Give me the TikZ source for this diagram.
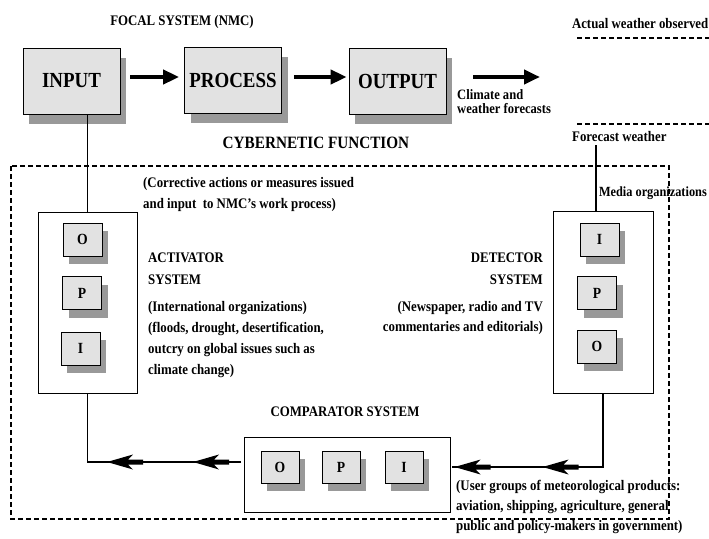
\documentclass[tikz,border=0pt]{standalone}
\usepackage{fontspec}
\setmainfont[FakeStretch=0.88]{Liberation Serif}
\usetikzlibrary{arrows.meta, positioning, calc, shadows, decorations.markings}

\definecolor{boxgray}{RGB}{226,226,226}
\definecolor{shadowgray}{RGB}{153,153,153}

\newcommand{\feedtip}{\fill (0,0) -- (-26,-7.5) -- (-21,-2.5) -- (-36,-2.5) -- (-36,2.5) -- (-21,2.5) -- (-26,7.5) -- cycle;}

\begin{document}
\begin{tikzpicture}[x=1pt, y=-1pt, font=\bfseries,
  bigbox/.style={draw, line width=0.8pt, fill=boxgray, minimum width=97pt, minimum height=66pt,
    font=\fontsize{21.5}{23}\selectfont\bfseries,
    drop shadow={shadow xshift=6pt, shadow yshift=-10pt, fill=shadowgray, opacity=1}},
  smallbox/.style={draw, line width=0.8pt, fill=boxgray, minimum width=39pt, minimum height=33pt,
    font=\fontsize{15.5}{17}\selectfont\bfseries,
    drop shadow={shadow xshift=6pt, shadow yshift=-8pt, fill=shadowgray, opacity=1}},
  sysbox/.style={draw, line width=0.8pt},
  head/.style={font=\fontsize{14.6}{22}\selectfont\bfseries, inner sep=0pt},
  body/.style={font=\fontsize{14.6}{21}\selectfont\bfseries, inner sep=0pt},
  bigarrow/.style={line width=4.5pt, -{Triangle[length=16pt, width=14pt]}},
  feedline/.style={line width=1.3pt},
  feedmark/.style={postaction={decorate, decoration={markings, mark=at position #1 with {\feedtip}}}},
  boundary/.style={line width=1.3pt, dash pattern=on 5pt off 3pt}]

\useasboundingbox (0,0) rectangle (709,538);

\node[head] (focal) at (182,22) {FOCAL SYSTEM (NMC)};
\node[bigbox] (input) at (71.5,81) {INPUT};
\node[bigbox] (process) at (233,80) {PROCESS};
\node[bigbox] (output) at (397.5,81) {OUTPUT};
\coordinate (fcend) at (540,77);
\draw[bigarrow, shorten <=10pt, shorten >=5pt] ([yshift=4pt]input.east) -- ([yshift=4pt]input.east -| process.west);
\draw[bigarrow, shorten <=12pt, shorten >=2pt] ([yshift=3pt]process.east) -- ([yshift=3pt]process.east -| output.west);
\draw[bigarrow, shorten <=27pt] ([yshift=4pt]output.east) -- (fcend);
\node[body, font=\fontsize{14.3}{13.5}\selectfont\bfseries, align=left, anchor=west] (climate) at (457,101.5) {Climate and\\weather forecasts};

\node[head, anchor=east] (actual) at (708.5,24) {Actual weather observed};
\draw[boundary] (577,38) -- (709,38);
\draw[boundary] (577,124) -- (709,124);
\node[head, anchor=west] (fw) at (572,137) {Forecast weather};

\node[head, font=\fontsize{17.3}{19}\selectfont\bfseries] (cyber) at (316,143) {CYBERNETIC FUNCTION};
\draw[boundary] (11,166) rectangle (669,519);

\node[body, align=left, anchor=west] (corrective) at (143,194.5) {(Corrective actions or measures issued\\and input\ \ to NMC’s work process)};
\node[head, font=\fontsize{14}{15}\selectfont\bfseries, anchor=east] (media) at (707,193) {Media organizations};

\node[sysbox, minimum width=99pt, minimum height=181pt] (act) at (87.5,302.5) {};
\node[smallbox] (actO) at (82.5,239.5) {O};
\node[smallbox] (actP) at (82,293) {P};
\node[smallbox] (actI) at (80.5,348.5) {I};
\node[head, align=left, anchor=west] (acthead) at (148,269) {ACTIVATOR\\SYSTEM};
\node[body, align=left, anchor=west] (actbody) at (148,339.5) {(International organizations)\\(floods, drought, desertification,\\outcry on global issues such as\\climate change)};

\node[sysbox, minimum width=100pt, minimum height=182pt] (det) at (603,302) {};
\node[smallbox] (detI) at (599.5,239.5) {I};
\node[smallbox] (detP) at (597,293) {P};
\node[smallbox] (detO) at (597,346.5) {O};
\node[head, align=right, anchor=east] (dethead) at (543,269) {DETECTOR\\SYSTEM};
\node[body, align=right, anchor=east, font=\fontsize{14.6}{20}\selectfont\bfseries] (detbody) at (543,318) {(Newspaper, radio and TV\\commentaries and editorials)};

\node[head] (comphead) at (345,412) {COMPARATOR SYSTEM};
\node[sysbox, minimum width=206pt, minimum height=75pt] (comp) at (347,474.5) {};
\node[smallbox, minimum width=38pt, minimum height=32pt] (compO) at (280,467) {O};
\node[smallbox, minimum width=38pt, minimum height=32pt] (compP) at (341,467) {P};
\node[smallbox, minimum width=38pt, minimum height=32pt] (compI) at (404,467) {I};
\node[body, align=left, anchor=west, font=\fontsize{14.6}{20}\selectfont\bfseries] (users) at (456,507) {(User groups of meteorological products:\\aviation, shipping, agriculture, general\\public and policy-makers in government)};

\coordinate (fwtop) at (596,145);
\coordinate (cl) at (241,462);
\coordinate (cr) at (452,467);
\draw[feedline] (act.north) -- (act.north |- input.south);
\draw[feedline] (fwtop) -- (fwtop |- det.north);
\draw[feedline, feedmark=48pt, feedmark=134pt] (cl) -| (act.south);
\draw[feedline, feedmark=134pt, feedmark=222pt] (det.south) |- (cr);
\end{tikzpicture}
\end{document}
